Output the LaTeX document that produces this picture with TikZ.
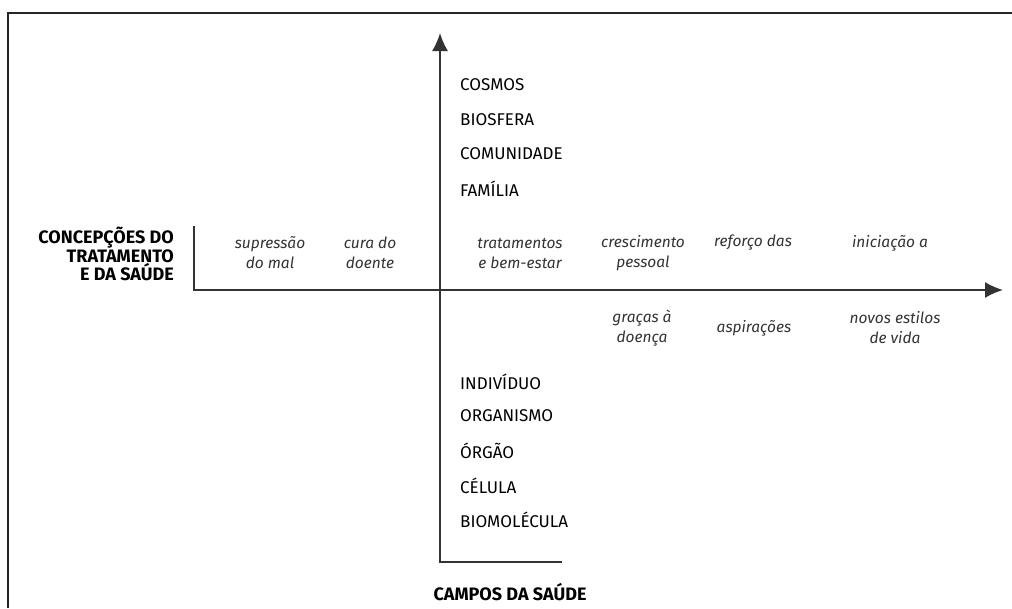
\documentclass[tikz,border=0pt]{standalone}
\usepackage{fontspec}
\setmainfont{Fira Sans}
\usetikzlibrary{arrows.meta,positioning}

\begin{document}
\begin{tikzpicture}[x=1pt,y=-1pt,
        axis/.style={line width=1.6pt, draw=black!80},
        tip/.style={-{Latex[length=18pt,width=16pt]}},
        field/.style={anchor=west, inner sep=0pt, font=\fontsize{17}{20}\selectfont},
        concept/.style={align=center, inner sep=0pt, text=black!80, font=\itshape\fontsize{15.5}{20}\selectfont},
        heading/.style={inner sep=0pt, font=\bfseries\fontsize{18}{15.5}\selectfont}]
        \useasboundingbox (0,0) rectangle (1012,608);
        % cropped frame
        \draw[line width=1.6pt, black!85] (8,608) -- (8,13) -- (1012,13);
        % axes
        \coordinate (hstart) at (194,226);
        \coordinate (horigin) at (194,290);
        \coordinate (hend) at (1003,290);
        \coordinate (vtop) at (440,33);
        \coordinate (vfoot) at (440,562);
        \coordinate (vend) at (562,562);
        \draw[axis,tip] (hstart) -- (horigin) -- (hend);
        \draw[axis,tip] (vend) -- (vfoot) -- (vtop);
        % headings
        \node[heading, align=right, anchor=east] (conc) at (174,254) {CONCEPÇÕES DO\\TRATAMENTO\\E DA SAÚDE};
        \node[heading] (campos) at (510,592) {CAMPOS DA SAÚDE};
        % fields of health
        \node[field] (cosmos) at (460,85) {COSMOS};
        \node[field] (biosfera) at (460,120) {BIOSFERA};
        \node[field] (comunidade) at (460,154) {COMUNIDADE};
        \node[field] (familia) at (460,189) {FAMÍLIA};
        \node[field] (individuo) at (460,382) {INDIVÍDUO};
        \node[field] (organismo) at (460,416) {ORGANISMO};
        \node[field] (orgao) at (460,451) {ÓRGÃO};
        \node[field] (celula) at (460,486) {CÉLULA};
        \node[field] (biomolecula) at (460,520) {BIOMOLÉCULA};
        % conceptions of treatment
        \node[concept] (supressao) at (270,253) {supressão\\do mal};
        \node[concept] (cura) at (370,253) {cura do\\doente};
        \node[concept] (tratamentos) at (520,253) {tratamentos\\e bem-estar};
        \node[concept] (crescimento) at (643,253) {crescimento\\pessoal};
        \node[concept] (reforco) at (753,243) {reforço das};
        \node[concept] (iniciacao) at (890,243) {iniciação a};
        \node[concept] (gracas) at (642,328) {graças à\\doença};
        \node[concept] (aspiracoes) at (754,328) {aspirações};
        \node[concept] (estilos) at (895,328) {novos estilos\\de vida};
\end{tikzpicture}
\end{document}
